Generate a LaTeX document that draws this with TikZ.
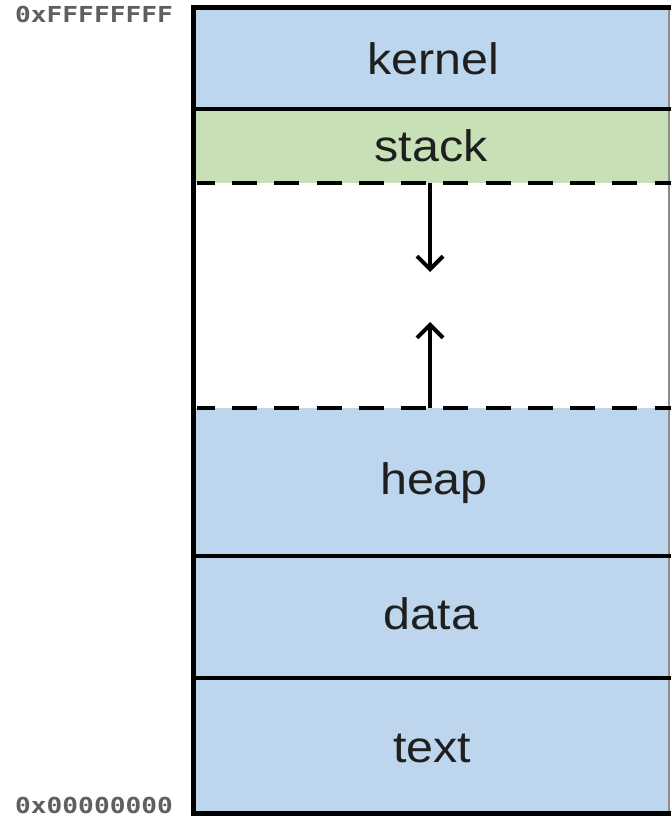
\documentclass[tikz,border=0pt]{standalone}
\usepackage{fontspec}
\usetikzlibrary{arrows.meta}
\newfontfamily\segfont[FakeStretch=1.1]{Liberation Sans}
\newfontfamily\addrfont[FakeStretch=1.19]{DejaVu Sans Mono}
\definecolor{segblue}{RGB}{189,214,237}
\definecolor{seggreen}{RGB}{199,224,181}
\definecolor{addrgray}{RGB}{95,95,95}
\tikzset{
  seglabel/.style={anchor=base, inner sep=0pt, font=\segfont\fontsize{44}{50}\selectfont, text=black!88},
  addrlabel/.style={anchor=base west, inner sep=0pt, font=\addrfont\bfseries\fontsize{22}{24}\selectfont, text=addrgray},
  divider/.style={line width=3.5pt, black},
  frame/.style={line width=5pt, black},
  gapline/.style={line width=3.4pt, black, dash pattern=on 25pt off 17.25pt, dash phase=7.25pt},
  growth/.style={line width=4pt, black, -{Straight Barb[length=13pt,width=26pt,line width=4pt]}}
}
\begin{document}
\begin{tikzpicture}[x=1pt,y=-1pt]
\useasboundingbox (0,0) rectangle (671,818);
\fill[white] (0,0) rectangle (671,818);

% segment fills
\fill[segblue]  (193,7.5) rectangle (669,109);
\fill[seggreen] (193,109) rectangle (669,183);
\fill[segblue]  (193,408) rectangle (669,813);

% right edge
\draw[line width=1.5pt, black!45] (669,7.5) -- (669,813);

% dividers between segments
\draw[divider] (193,109) -- (671,109);
\draw[divider] (193,556) -- (671,556);
\draw[divider] (193,678) -- (671,678);
\draw[gapline] (197,183) -- (671,183);
\draw[gapline] (197,408) -- (671,408);

% outer frame
\draw[frame] (671,7.5) -- (193.5,7.5) -- (193.5,813) -- (671,813);

% labels
\node[seglabel] (kernel) at (433,75)  {kernel};
\node[seglabel] (stack)  at (431,162) {stack};
\node[seglabel] (heap)   at (434,494) {heap};
\node[seglabel] (data)   at (431,629) {data};
\node[seglabel] (text)   at (432,762) {text};

% growth arrows
\coordinate (stackend) at (430,183);
\coordinate (stacktip) at (430,272);
\coordinate (heapend)  at (430,408);
\coordinate (heaptip)  at (430,322);
\draw[growth] (stackend) -- (stacktip);
\draw[growth] (heapend) -- (heaptip);

% address range
\node[addrlabel] (top)    at (15,23)  {0xFFFFFFFF};
\node[addrlabel] (bottom) at (15,813) {0x00000000};
\end{tikzpicture}
\end{document}
